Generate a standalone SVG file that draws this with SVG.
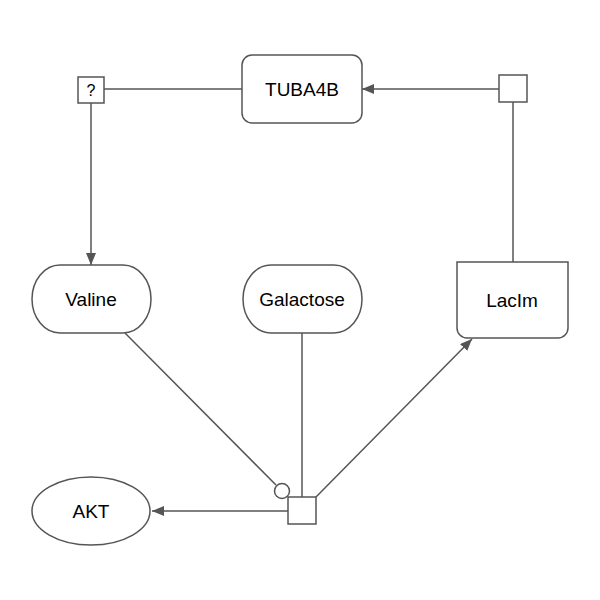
<svg xmlns="http://www.w3.org/2000/svg" width="600" height="600" viewBox="0 0 600 600">
<style>
.n{fill:#fff;stroke:#555;stroke-width:1.5}
.e{fill:none;stroke:#555;stroke-width:1.5}
text{font-family:"Liberation Sans",Arial,sans-serif;font-size:19px;fill:#000;text-anchor:middle;dominant-baseline:central}
</style>
<defs>
<marker id="arr" viewBox="0 0 12 10" refX="12" refY="5" markerWidth="12" markerHeight="10" markerUnits="userSpaceOnUse" orient="auto">
<path d="M0,0 L12,5 L0,10 Z" fill="#555"/>
</marker>
</defs>
<rect width="600" height="600" fill="#fff"/>
<g id="connectors">
<line class="e" x1="104" y1="89" x2="242" y2="89"/>
<line class="e" x1="499" y1="89" x2="362" y2="89" marker-end="url(#arr)"/>
<line class="e" x1="513" y1="102" x2="513" y2="262"/>
<line class="e" x1="91" y1="103" x2="91" y2="265" marker-end="url(#arr)"/>
<line class="e" x1="125" y1="333" x2="276" y2="485"/>
<line class="e" x1="302" y1="333" x2="302" y2="497"/>
<line class="e" x1="316" y1="497" x2="472" y2="339" marker-end="url(#arr)"/>
<line class="e" x1="288" y1="511" x2="152" y2="511" marker-end="url(#arr)"/>
</g>
<g id="q"><rect class="n" x="78" y="77" width="26" height="26"/><text x="91" y="90" style="font-size:16px">?</text></g>
<g id="TUBA4B"><rect class="n" x="242" y="55" width="120" height="68" rx="10"/><text x="302" y="89">TUBA4B</text></g>
<g id="p1"><rect class="n" x="499" y="75" width="28" height="27"/></g>
<g id="LacIm"><path class="n" d="M457,262 H568 V328 A10,10 0 0 1 558,338 H467 A10,10 0 0 1 457,328 Z"/><text x="512" y="300">LacIm</text></g>
<g id="Valine"><path class="n" d="M60,265 H123 A28,34 0 0 1 123,333 H60 A28,34 0 0 1 60,265 Z"/><text x="91" y="299">Valine</text></g>
<g id="Galactose"><path class="n" d="M271,265 H334 A28,34 0 0 1 334,333 H271 A28,34 0 0 1 271,265 Z"/><text x="302" y="299">Galactose</text></g>
<g id="AKT"><ellipse class="n" cx="91" cy="511" rx="59" ry="34"/><text x="91" y="511">AKT</text></g>
<g id="p2"><circle class="n" cx="282" cy="491" r="7.5"/><rect class="n" x="288" y="497" width="28" height="27"/></g>
</svg>
